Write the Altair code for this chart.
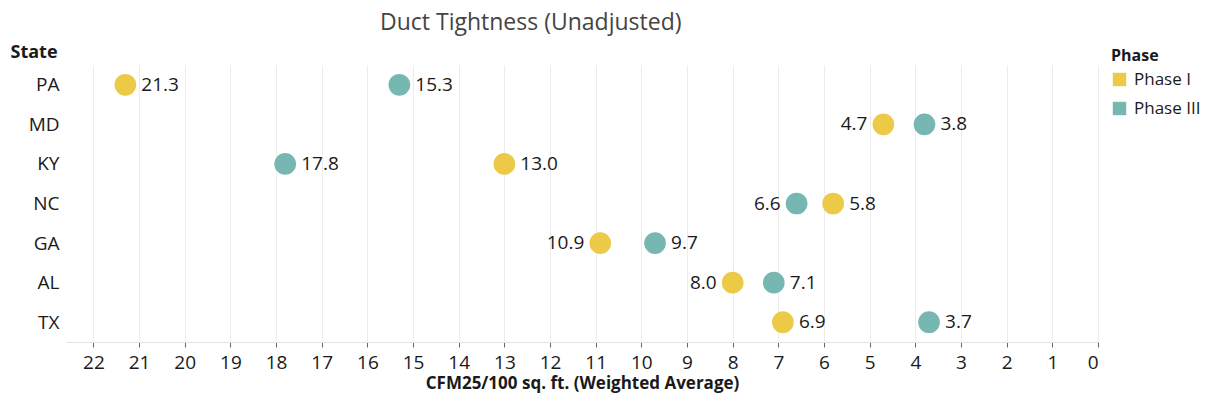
import altair as alt
import pandas as pd

states = ["PA", "MD", "KY", "NC", "GA", "AL", "TX"]
phase1 = [21.3, 4.7, 13.0, 5.8, 10.9, 8.0, 6.9]
phase3 = [15.3, 3.8, 17.8, 6.6, 9.7, 7.1, 3.7]
phases = ["Phase I", "Phase III"]
colors = ["#EDC948", "#76B7B2"]

rows = []
for s, a, b in zip(states, phase1, phase3):
    close = abs(a - b) < 2
    for ph, v, other in ((phases[0], a, b), (phases[1], b, a)):
        side = "left" if (close and v > other) else "right"
        rows.append({"State": s, "Phase": ph, "Value": v, "Label": f"{v:.1f}", "Side": side})
df = pd.DataFrame(rows)

FONT = "Open Sans"
TXT = "#1a1a1a"

x = alt.X("Value:Q", scale=alt.Scale(domain=[22.6, 0], nice=False, zero=False),
          axis=alt.Axis(values=list(range(0, 23)), title="CFM25/100 sq. ft. (Weighted Average)",
                        grid=True, gridColor="#ececec", domainColor="#e3e3e3", tickColor="#666",
                        tickSize=5, labelFontSize=19, labelColor=TXT, labelPadding=6,
                        titleFontSize=17, titleFontWeight="bold", titleColor=TXT, titlePadding=3,
                        labelFont=FONT, titleFont=FONT))
y = alt.Y("State:N", sort=states,
          axis=alt.Axis(title="State", titleAngle=0, titleAlign="left", titleBaseline="bottom",
                        titleX=-56, titleY=-4, titleFontSize=18, titleFontWeight="bold",
                        titleColor=TXT, labelFontSize=19, labelColor=TXT, domain=False,
                        ticks=False, labelPadding=7, grid=False, labelFont=FONT, titleFont=FONT))

base = alt.Chart(df)
points = base.mark_circle(size=470, opacity=1).encode(
    x=x, y=y,
    color=alt.Color("Phase:N", scale=alt.Scale(domain=phases, range=colors),
                    legend=alt.Legend(title="Phase", symbolType="square", symbolSize=180,
                                      titleFontSize=16, titleFontWeight="bold", titleColor=TXT,
                                      labelFontSize=17, labelColor=TXT, rowPadding=11,
                                      titlePadding=7, padding=0, labelOffset=6,
                                      orient="none", legendX=1045, legendY=-17,
                                      labelFont=FONT, titleFont=FONT, symbolOpacity=1)),
)
right_lbl = base.transform_filter(alt.datum.Side == "right").mark_text(
    align="left", dx=16, fontSize=19, color=TXT, font=FONT
).encode(x="Value:Q", y=alt.Y("State:N", sort=states), text="Label:N")
left_lbl = base.transform_filter(alt.datum.Side == "left").mark_text(
    align="right", dx=-16, fontSize=19, color=TXT, font=FONT
).encode(x="Value:Q", y=alt.Y("State:N", sort=states), text="Label:N")

chart = alt.layer(points, right_lbl, left_lbl).properties(
    width=1032, height=277,
    title=alt.Title("Duct Tightness (Unadjusted)", fontSize=23, fontWeight="normal",
                    color="#444", anchor="start", dx=370, offset=8, font=FONT),
    padding={"left": 2, "top": 4, "right": 0, "bottom": 4},
).configure_view(stroke=None)

chart.save("out.html", embed_options={"renderer": "svg", "actions": False})
